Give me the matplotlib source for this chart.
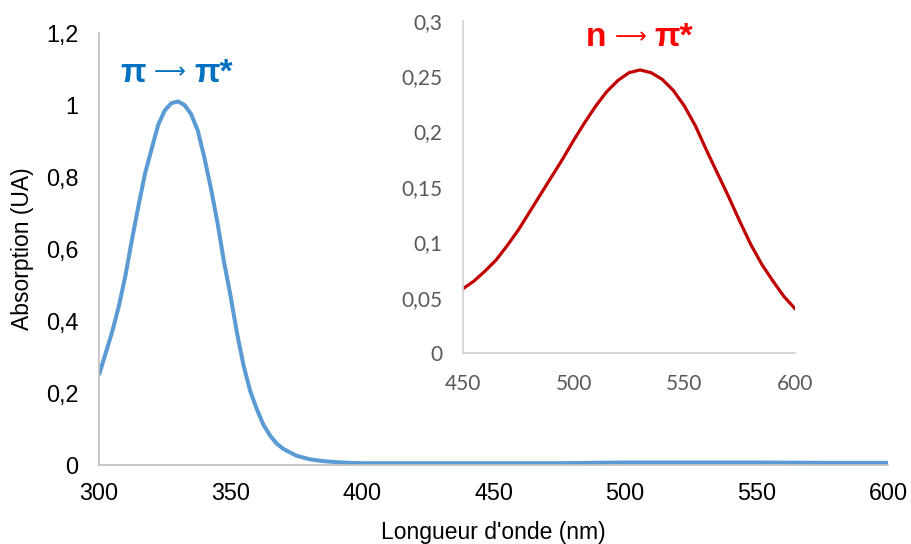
import numpy as np
import matplotlib
matplotlib.use("Agg")
import matplotlib.pyplot as plt

# main spectrum (pi -> pi*)
wl_main = [300, 302.5, 305, 307.5, 310, 312.5, 315, 317.5, 320, 322.5, 325, 327.5, 330,
           332.5, 335, 337.5, 340, 342.5, 345, 347.5, 350, 352.5, 355, 357.5, 360,
           362.5, 365, 367.5, 370, 375, 380, 385, 390, 395, 400, 425, 450, 475,
           500, 525, 550, 575, 600]
abs_main = [0.25, 0.31, 0.37, 0.44, 0.525, 0.625, 0.72, 0.81, 0.878, 0.945, 0.985, 1.005, 1.01,
            1.0, 0.975, 0.93, 0.856, 0.77, 0.675, 0.565, 0.47, 0.365, 0.275, 0.205, 0.155,
            0.112, 0.082, 0.06, 0.045, 0.026, 0.016, 0.011, 0.008, 0.006, 0.005, 0.005, 0.005, 0.005,
            0.007, 0.007, 0.007, 0.006, 0.006]

# inset spectrum (n -> pi*)
wl_inset = [450, 455, 460, 465, 470, 475, 480, 485, 490, 495, 500, 505, 510, 515, 520,
            525, 530, 535, 540, 545, 550, 555, 560, 565, 570, 575, 580, 585, 590, 595, 600]
abs_inset = [0.058, 0.065, 0.074, 0.084, 0.097, 0.111, 0.127, 0.143, 0.159, 0.175, 0.192,
             0.208, 0.223, 0.236, 0.246, 0.253, 0.2555, 0.253, 0.247, 0.237, 0.223, 0.205,
             0.183, 0.162, 0.141, 0.119, 0.098, 0.080, 0.065, 0.051, 0.040]

main_xticks = [300, 350, 400, 450, 500, 550, 600]
main_yticks = [0, 0.2, 0.4, 0.6, 0.8, 1.0, 1.2]
inset_xticks = [450, 500, 550, 600]
inset_yticks = [0, 0.05, 0.1, 0.15, 0.2, 0.25, 0.3]

W, H = 911, 544


def comma(v):
    return ("%g" % v).replace(".", ",")


def transition(x_left, x_arrow, x_right, y_base, y_arrow, left, color):
    # three pieces so the arrow can use a longer, thinner glyph than Arial's
    yb = 1 - y_base / H
    fig.text(x_left / W, yb, left, ha="left", va="baseline", fontsize=24,
             fontweight="bold", color=color)
    fig.text(x_arrow / W, 1 - y_arrow / H, "⟶", ha="center", va="center", fontsize=16,
             family="DejaVu Sans", color=color)
    fig.text(x_right / W, yb, "π*", ha="left", va="baseline", fontsize=24,
             fontweight="bold", color=color)


plt.rcParams['font.family'] = ['Liberation Sans', 'DejaVu Sans']

fig = plt.figure(figsize=(W / 100, H / 100), dpi=100)
ax = fig.add_axes([0.1087, 0.1452, 0.8661, 0.7941])
ax.plot(wl_main, abs_main, color="#5B9BD5", lw=2.9, solid_capstyle="butt")
ax.set_xlim(300, 600)
ax.set_ylim(0, 1.2)
ax.set_xticks(main_xticks)
ax.set_xticklabels([comma(v) for v in main_xticks])
ax.set_yticks(main_yticks)
ax.set_yticklabels([comma(v) for v in main_yticks])
ax.tick_params(length=0, labelsize=16.8, colors="black")
ax.tick_params(axis="y", pad=15)
ax.tick_params(axis="x", pad=12)
for s in ["top", "right"]:
    ax.spines[s].set_visible(False)
for s in ["left", "bottom"]:
    ax.spines[s].set_color("#BFBFBF")
    ax.spines[s].set_linewidth(1.2)

fig.text(23 / W, 1 - 249 / H, "Absorption (UA)", rotation=90, ha="center", va="center",
         fontsize=16.5)
fig.text(493 / W, 1 - 539 / H, "Longueur d'onde (nm)", ha="center", va="baseline",
         fontsize=16.5)
transition(120, 170, 194, 82, 72.5, "π", "#0070C0")

# inset
axi = fig.add_axes([0.5082, 0.3511, 0.3645, 0.6110])
axi.patch.set_alpha(0)
axi.plot(wl_inset, abs_inset, color="#C00000", lw=2.3)
axi.set_xlim(450, 600)
axi.set_ylim(0, 0.3)
axi.set_xticks(inset_xticks)
axi.set_xticklabels([comma(v) for v in inset_xticks])
axi.set_yticks(inset_yticks)
axi.set_yticklabels([comma(v) for v in inset_yticks])
axi.tick_params(length=0, labelsize=15, colors="#595959")
axi.tick_params(axis="y", pad=15)
axi.tick_params(axis="x", pad=15)
for lab in axi.get_xticklabels() + axi.get_yticklabels():
    lab.set_family(["Lato", "DejaVu Sans"])
for s in ["top", "right"]:
    axi.spines[s].set_visible(False)
for s in ["left", "bottom"]:
    axi.spines[s].set_color("#D0D0D0")
    axi.spines[s].set_linewidth(1.2)

transition(586, 631, 654, 46, 37.5, "n", "#FF0000")

fig.savefig("out.png", dpi=100)
